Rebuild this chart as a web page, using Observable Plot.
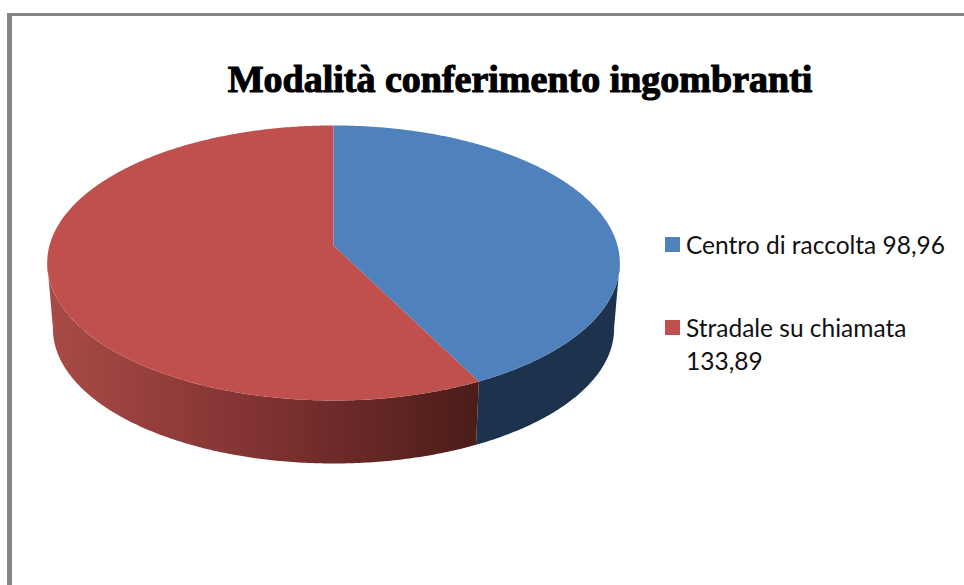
<!DOCTYPE html>
<html lang="it">
<head>
<meta charset="utf-8">
<script src="https://cdn.jsdelivr.net/npm/d3@7"></script>
<script src="https://cdn.jsdelivr.net/npm/@observablehq/plot@0.6"></script>
<style>
  html, body { margin: 0; background: #fff; }
  #page { position: relative; width: 964px; height: 585px; overflow: hidden; }
  #frame { position: absolute; left: 7px; top: 13px; width: 957px; height: 572px; box-sizing: border-box;
           border-left: 5.5px solid #868686; border-top: 3.5px solid #868686; }
  #title { position: absolute; left: 0; top: 54px; width: 1040px; text-align: center; white-space: nowrap;
           font: bold 38px/50px "Liberation Serif", serif; color: #000; -webkit-text-stroke: 1.1px #000; }
  #chart { position: absolute; left: 0; top: 105px; }
  #chart svg { display: block; background: transparent; }
  .item { position: absolute; left: 665px; width: 295px; padding-left: 21px; box-sizing: border-box;
          font: 24.5px/33px Lato, sans-serif; color: #111; }
  .item i { position: absolute; left: 0; top: 9.5px; width: 15px; height: 15px; }
</style>
</head>
<body>
<div id="page">
  <div id="frame"></div>
  <div id="title"></div>
  <div id="chart"></div>
</div>
<script>
const titleText = "Modalità conferimento ingombranti";
const categories = ["Centro di raccolta", "Stradale su chiamata"];
const values = [98.96, 133.89];
const topColors = ["#4f81bd", "#c0504d"];
const sideFills = ["#1d334d", "url(#redSide)"];
const redSideStops = [[0, "#a94b47"], [0.5, "#7f3231"], [1, "#4a1c18"]];
const legendTops = [227.5, 310.5];

const W = 640, H = 480;
// Perspective disc: screen position of a point on the pie's rim.
const view = {cx: 333, cy: 140, R: 284, S: 135.3, k: 0.127, drop: 63, shrink: 0.98};
function rim(theta, lower) {
  const u = Math.sin(theta), v = -Math.cos(theta), w = 1 - view.k * v;
  const f = lower ? view.shrink : 1;
  return {
    x: view.cx + f * view.R * u / w,
    y: view.cy + (lower ? view.drop + 155 * (1 - f) : 0) + f * view.S * v / w
  };
}
const arc = (a, b, lower) => {
  const n = Math.max(2, Math.ceil(Math.abs(b - a) / 0.01));
  return d3.range(n + 1).map(i => rim(a + (b - a) * i / n, lower));
};

const total = d3.sum(values);
let cumulative = 0;
const slices = values.map((value, i) => {
  const a = cumulative / total * 2 * Math.PI;
  cumulative += value;
  return {i, a, b: cumulative / total * 2 * Math.PI};
});

const rad = Math.PI / 180;
const rightEdge = 97 * rad, leftEdge = 263 * rad;
const topRows = slices.flatMap(s =>
  [{x: view.cx, y: view.cy}, ...arc(s.a, s.b, false)].map(p => ({...p, id: s.i, fill: topColors[s.i]})));
const sideRows = slices.flatMap(s => {
  const a = Math.max(s.a, rightEdge), b = Math.min(s.b, leftEdge);
  return [...arc(a, b, false), ...arc(b, a, true)].map(p => ({...p, id: s.i, fill: sideFills[s.i]}));
});

const gradientDefs = () => {
  const defs = d3.create("svg:defs");
  const g = defs.append("linearGradient").attr("id", "redSide")
    .attr("gradientUnits", "userSpaceOnUse")
    .attr("x1", 47).attr("x2", 480).attr("y1", 0).attr("y2", 0);
  redSideStops.forEach(([o, c]) => g.append("stop").attr("offset", o).attr("stop-color", c));
  return defs.node();
};

const plot = Plot.plot({
  width: W, height: H, margin: 0,
  x: {domain: [0, W], range: [0, W], axis: null},
  y: {domain: [0, H], range: [0, H], axis: null},
  marks: [
    gradientDefs,
    Plot.line(sideRows, {x: "x", y: "y", z: "id", fill: d => d.fill, stroke: "none", curve: "linear-closed"}),
    Plot.line(topRows, {x: "x", y: "y", z: "id", fill: d => d.fill, stroke: "none", curve: "linear-closed"})
  ]
});
document.getElementById("chart").append(plot);
document.getElementById("title").textContent = titleText;

const page = document.getElementById("page");
categories.forEach((name, i) => {
  const item = document.createElement("div");
  item.className = "item";
  item.style.top = legendTops[i] + "px";
  const swatch = document.createElement("i");
  swatch.style.background = topColors[i];
  item.append(swatch, name + " " + String(values[i]).replace(".", ","));
  page.append(item);
});
</script>
</body>
</html>
